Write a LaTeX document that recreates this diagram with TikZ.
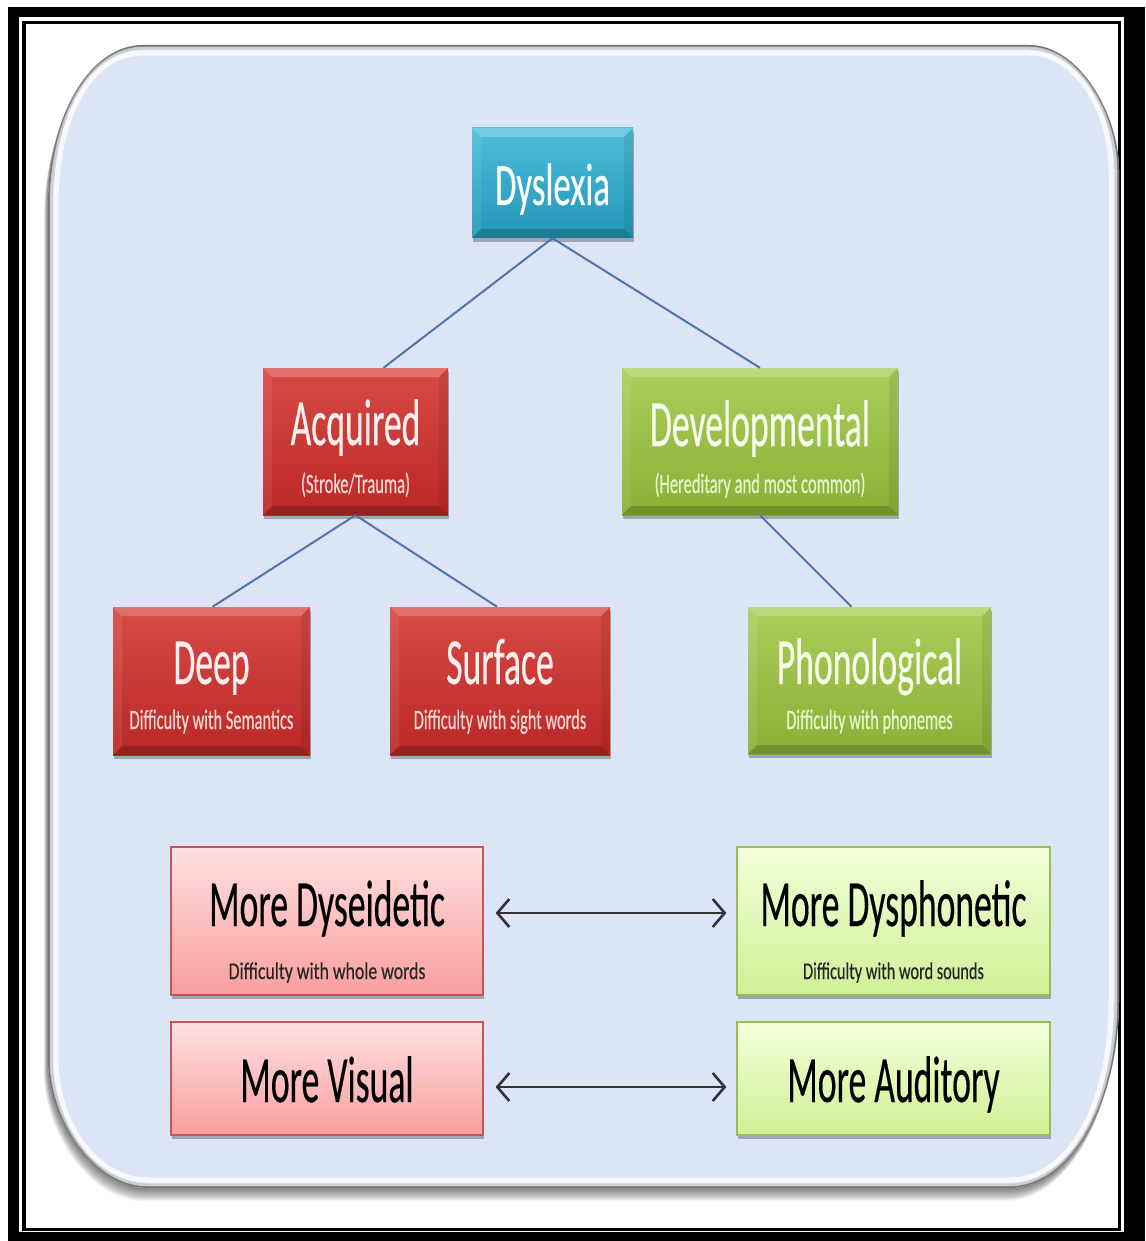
\documentclass[tikz,border=0pt]{standalone}
\usepackage{fontspec}
\usepackage{graphicx}
\setmainfont[FakeBold=0.45]{Carlito}
\usetikzlibrary{arrows.meta,calc,shadows}
\definecolor{panelblue}{RGB}{219,229,246}
\definecolor{tealT}{RGB}{78,190,218}
\definecolor{tealB}{RGB}{34,150,184}
\definecolor{redT}{RGB}{216,74,70}
\definecolor{redB}{RGB}{186,40,38}
\definecolor{grnT}{RGB}{172,206,92}
\definecolor{grnB}{RGB}{136,176,54}
\definecolor{pinkT}{RGB}{255,224,224}
\definecolor{pinkB}{RGB}{249,158,158}
\definecolor{pinkD}{RGB}{196,86,86}
\definecolor{lgT}{RGB}{243,255,218}
\definecolor{lgB}{RGB}{208,240,150}
\definecolor{lgD}{RGB}{150,190,84}
\definecolor{conn}{RGB}{84,115,170}
\definecolor{arrowc}{RGB}{50,50,56}
\definecolor{redtxt}{RGB}{255,240,238}
\definecolor{redsub}{RGB}{250,215,212}
\definecolor{grntxt}{RGB}{248,255,236}
\definecolor{grnsub}{RGB}{232,246,206}
\newcommand\bigtxt[1]{\fontsize{66}{70}\selectfont\scalebox{0.54}[1]{#1}}
\newcommand\subtxt[2]{\fontsize{28}{30}\selectfont\scalebox{#1}[1]{#2}}
% panel outline with elliptic corners: #1 = inset
\newcommand\panelpath[1]{%
  (48+95,45+#1) -- (1119-90,45+#1)
  .. controls (1119-90+50,45+#1) and (1119-#1,45+70) .. (1119-#1,45+125)
  -- (1119-#1,1188-188)
  .. controls (1119-#1,1188-84) and (1119-110+61,1188-#1) .. (1119-110,1188-#1)
  -- (48+100,1188-#1)
  .. controls (48+45,1188-#1) and (48+#1,1188-70) .. (48+#1,1188-128)
  -- (48+#1,45+160)
  .. controls (48+#1,45+72) and (48+95-53,45+#1) .. (48+95,45+#1) -- cycle}
\tikzset{
  bevel/.style={path picture={
    \fill[white,opacity=.22] (path picture bounding box.north west) -- (path picture bounding box.north east)
      -- ([xshift=-9pt,yshift=-9pt]path picture bounding box.north east) -- ([xshift=9pt,yshift=-9pt]path picture bounding box.north west) -- cycle;
    \fill[black,opacity=.18] (path picture bounding box.south west) -- (path picture bounding box.south east)
      -- ([xshift=-9pt,yshift=9pt]path picture bounding box.south east) -- ([xshift=9pt,yshift=9pt]path picture bounding box.south west) -- cycle;
    \fill[black,opacity=.07] (path picture bounding box.north east) -- (path picture bounding box.south east)
      -- ([xshift=-9pt,yshift=9pt]path picture bounding box.south east) -- ([xshift=-9pt,yshift=-9pt]path picture bounding box.north east) -- cycle;
    \fill[white,opacity=.08] (path picture bounding box.north west) -- (path picture bounding box.south west)
      -- ([xshift=9pt,yshift=9pt]path picture bounding box.south west) -- ([xshift=9pt,yshift=-9pt]path picture bounding box.north west) -- cycle;
  }},
  boxshadow/.style={drop shadow={shadow xshift=1pt,shadow yshift=-4pt,opacity=.35,fill=black!80}},
  tealbox/.style={rectangle,inner sep=0,top color=tealT,bottom color=tealB,bevel,boxshadow},
  redbox/.style={rectangle,inner sep=0,top color=redT,bottom color=redB,bevel,boxshadow},
  grnbox/.style={rectangle,inner sep=0,top color=grnT,bottom color=grnB,bevel,boxshadow},
  pinkbox/.style={rectangle,inner sep=0,top color=pinkT,bottom color=pinkB,draw=pinkD,line width=1.2pt,boxshadow},
  lgbox/.style={rectangle,inner sep=0,top color=lgT,bottom color=lgB,draw=lgD,line width=1.2pt,boxshadow},
  txt/.style={inner sep=0,anchor=base},
  link/.style={draw=conn,line width=2pt},
  dbl/.style={draw=arrowc,line width=2.6pt,{Straight Barb[length=12pt,width=28pt,line width=2.6pt]}-{Straight Barb[length=12pt,width=28pt,line width=2.6pt]}}
}
\begin{document}
\begin{tikzpicture}[x=1pt,y=-1pt]
\useasboundingbox (0,0) rectangle (1145,1241);
\fill[white] (0,0) rectangle (1145,1241);
% frame
\fill[black] (8,7) rectangle (1145,1241);
\fill[white] (19,17) rectangle (1124,1232);
\draw[line width=3.5pt] (24,22.5) rectangle (1119.5,1229.5);
% panel shadow
\foreach \s in {1,...,10}{
  \begin{scope}[shift={(-0.4*\s,1.3*\s)}]
  \fill[black,opacity=.06] \panelpath{0};
  \end{scope}
}
% panel
\fill[panelblue] \panelpath{0};
\draw[black!55,line width=1.8pt] \panelpath{0.9};
\draw[black!25,line width=3pt,opacity=.6] \panelpath{3};
\draw[white,opacity=.8,line width=5pt] \panelpath{8};

% boxes
\node[tealbox,minimum width=161pt,minimum height=110pt] (dys) at (552.5,183) {};
\node[redbox,minimum width=185pt,minimum height=147pt] (acq) at (355.5,441.5) {};
\node[grnbox,minimum width=276pt,minimum height=147pt] (dev) at (760,441.5) {};
\node[redbox,minimum width=197pt,minimum height=148pt] (deep) at (211.5,681) {};
\node[redbox,minimum width=220pt,minimum height=148pt] (surf) at (500,681) {};
\node[grnbox,minimum width=243pt,minimum height=147pt] (phon) at (869.5,680.5) {};
\node[pinkbox,minimum width=312pt,minimum height=148pt] (dyse) at (327,921) {};
\node[pinkbox,minimum width=312pt,minimum height=113pt] (vis) at (327,1078.5) {};
\node[lgbox,minimum width=313pt,minimum height=148pt] (dysp) at (893.5,921) {};
\node[lgbox,minimum width=313pt,minimum height=113pt] (aud) at (893.5,1078.5) {};

% connectors
\draw[link] (dys.south) -- ([xshift=28pt]acq.north);
\draw[link] (dys.south) -- (dev.north);
\draw[link] (acq.south) -- ([xshift=1pt]deep.north);
\draw[link] (acq.south) -- ([xshift=-3pt]surf.north);
\draw[link] (dev.south) -- ([xshift=-18pt]phon.north);
\coordinate (a1l) at ($(dyse.east)+(12,-8)$);
\coordinate (a1r) at ($(dysp.west)+(-10,-8)$);
\draw[dbl] (a1l) -- (a1r);
\coordinate (a2l) at ($(vis.east)+(12,8.5)$);
\coordinate (a2r) at ($(aud.west)+(-10,8.5)$);
\draw[dbl] (a2l) -- (a2r);

% texts
\node[txt,text=white] (tdys) at (552.5,205) {\fontsize{60}{64}\selectfont\scalebox{0.58}[1]{Dyslexia}};
\node[txt,text=redtxt] (tacq) at (355.5,445) {\bigtxt{Acquired}};
\node[txt,text=redsub] (sacq) at (355.5,493) {\subtxt{0.59}{(Stroke/Trauma)}};
\node[txt,text=grntxt] (tdev) at (760,446) {\bigtxt{Developmental}};
\node[txt,text=grnsub] (sdev) at (760,493) {\subtxt{0.59}{(Hereditary and most common)}};
\node[txt,text=redtxt] (tdeep) at (211.5,684) {\bigtxt{Deep}};
\node[txt,text=redsub] (sdeep) at (211.5,729) {\subtxt{0.585}{Difficulty with Semantics}};
\node[txt,text=redtxt] (tsurf) at (500,684) {\bigtxt{Surface}};
\node[txt,text=redsub] (ssurf) at (500,729) {\subtxt{0.585}{Difficulty with sight words}};
\node[txt,text=grntxt] (tphon) at (869.5,684) {\bigtxt{Phonological}};
\node[txt,text=grnsub] (sphon) at (869.5,729) {\subtxt{0.585}{Difficulty with phonemes}};
\node[txt,text=black] (tdyse) at (327,926) {\bigtxt{More Dyseidetic}};
\node[txt,text=black!85] (sdyse) at (327,979) {\fontsize{24}{26}\selectfont\scalebox{0.74}[1]{Difficulty with whole words}};
\node[txt,text=black] (tvis) at (327,1102) {\bigtxt{More Visual}};
\node[txt,text=black] (tdysp) at (893.5,926) {\bigtxt{More Dysphonetic}};
\node[txt,text=black!85] (sdysp) at (893.5,979) {\fontsize{24}{26}\selectfont\scalebox{0.68}[1]{Difficulty with word sounds}};
\node[txt,text=black] (taud) at (893.5,1102) {\bigtxt{More Auditory}};
\end{tikzpicture}
\end{document}
